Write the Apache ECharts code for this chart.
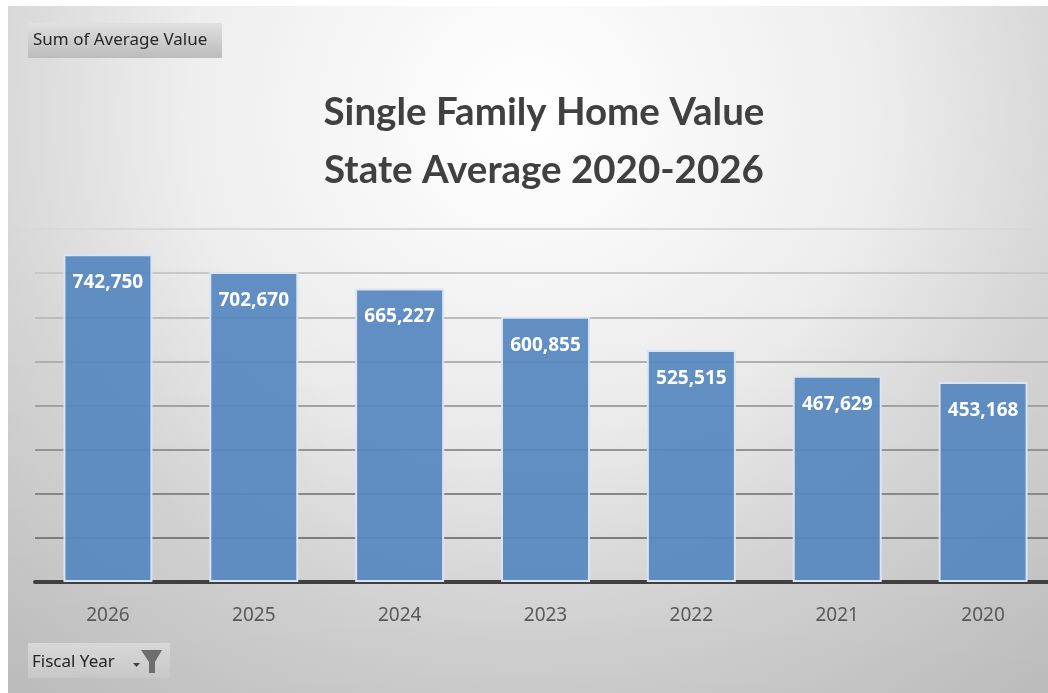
<!DOCTYPE html>
<html>
<head>
<meta charset="utf-8">
<style>
html, body { margin: 0; padding: 0; background: #fff; overflow: hidden; }
#chart { position: absolute; left: 8px; top: 6px; width: 1040px; height: 687px; }
</style>
<script src="https://cdn.jsdelivr.net/npm/echarts@6/dist/echarts.min.js"></script>
</head>
<body>
<div id="chart"></div>
<script>
var years = ["2026", "2025", "2024", "2023", "2022", "2021", "2020"];
var averageValue = [742750, 702670, 665227, 600855, 525515, 467629, 453168];
var titleLines = ["Single Family Home Value", "State Average 2020-2026"];
var fieldLabel = "Sum of Average Value";
var filterLabel = "Fiscal Year";

var font = '"Noto Sans", sans-serif';
var titleFont = 'Lato, "Noto Sans", sans-serif';
var myChart = echarts.init(document.getElementById("chart"));

function pill(x, y, w, h, top, bottom) {
  return {
    type: "rect",
    shape: { x: x, y: y, width: w, height: h },
    style: {
      fill: new echarts.graphic.LinearGradient(0, 0, 0, 1, [
        { offset: 0, color: top },
        { offset: 1, color: bottom },
      ]),
    },
  };
}

var option = {
  backgroundColor: new echarts.graphic.RadialGradient(0.5, 0.16, 1.1, [
    { offset: 0, color: "#ffffff" },
    { offset: 0.45, color: "#eeeeee" },
    { offset: 0.7, color: "#d8d8d8" },
    { offset: 1, color: "#c6c6c6" },
  ]),
  animation: false,
  title: {
    text: titleLines.join("\n"),
    left: 531,
    top: 73,
    textAlign: "center",
    textStyle: {
      fontFamily: titleFont,
      fontSize: 38.5,
      fontWeight: "bold",
      lineHeight: 58,
      color: "#404040",
    },
  },
  // the last category runs past the right edge of the page
  grid: { left: 27, width: 1021, top: 223, bottom: 111, outerBoundsMode: "none" },
  xAxis: {
    type: "category",
    data: years,
    axisTick: { show: false },
    axisLine: { lineStyle: { color: "#404040", width: 4 } },
    axisLabel: {
      color: "#595959",
      fontFamily: font,
      fontSize: 19,
      margin: 24,
    },
  },
  yAxis: {
    type: "value",
    min: 0,
    max: 800000,
    interval: 100000,
    axisLine: { show: false },
    axisTick: { show: false },
    axisLabel: { show: false },
    splitLine: {
      lineStyle: {
        width: 2,
        color: ["#404040", "#7c7c7c", "#888888", "#949494", "#a2a2a2", "#b0b0b0", "#bcbcbc", "#c8c8c8", "#d8d8d8"],
      },
    },
  },
  series: [
    {
      type: "bar",
      data: averageValue,
      barWidth: 89,
      itemStyle: {
        color: "rgba(86,135,192,0.93)",
        borderColor: "#dbe5f1",
        borderWidth: 2,
      },
      label: {
        show: true,
        position: "insideTop",
        distance: 19,
        color: "#ffffff",
        fontFamily: font,
        fontSize: 19,
        fontWeight: "bold",
        formatter: function (params) {
          return params.value.toLocaleString("en-US");
        },
      },
    },
  ],
  graphic: [
    {
      // darkens the lower half a little, the page shading is not quite round
      type: "rect",
      z: -1,
      shape: { x: 0, y: 200, width: 1040, height: 487 },
      style: {
        fill: new echarts.graphic.LinearGradient(0, 0, 0, 1, [
          { offset: 0, color: "rgba(0,0,0,0)" },
          { offset: 1, color: "rgba(0,0,0,0.05)" },
        ]),
      },
    },
    pill(20, 17, 194, 35, "#e0e0e0", "#bcbcbc"),
    {
      type: "text",
      style: { x: 25, y: 26, text: fieldLabel, fill: "#262626", font: "17px " + font },
    },
    pill(20, 637, 142, 35, "#d8d8d8", "#c8c8c8"),
    {
      type: "text",
      style: { x: 24, y: 648, text: filterLabel, fill: "#262626", font: "17px " + font },
    },
    {
      type: "polygon",
      shape: { points: [[125, 657], [132, 657], [128.5, 661]] },
      style: { fill: "#404040" },
    },
    {
      type: "polygon",
      shape: {
        points: [[133, 644], [154, 644], [147, 656], [147, 667], [141, 667], [141, 656]],
      },
      style: { fill: "#6e6e6e" },
    },
  ],
};

myChart.setOption(option);
</script>
</body>
</html>
